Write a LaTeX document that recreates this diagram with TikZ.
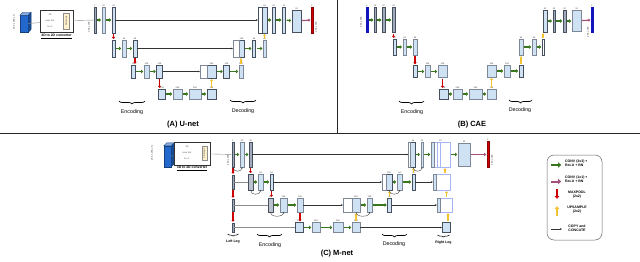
\documentclass[tikz,border=0pt]{standalone}
\usepackage{fontspec}
\setmainfont{Liberation Sans}
\usepackage{xcolor}
\usepackage{tikz}
\usetikzlibrary{arrows.meta, positioning, calc, decorations.pathreplacing}
\definecolor{layerblue}{RGB}{207, 226, 243}
\definecolor{layerline}{RGB}{125, 135, 150}
\definecolor{layerdark}{RGB}{70, 80, 95}
\definecolor{bargray}{RGB}{160, 170, 185}
\definecolor{convgreen}{RGB}{56, 118, 29}
\definecolor{poolred}{RGB}{204, 0, 0}
\definecolor{upyellow}{RGB}{241, 194, 50}
\definecolor{convpink}{RGB}{166, 77, 121}
\definecolor{cubeblue}{RGB}{35, 105, 205}
\definecolor{convyellow}{RGB}{255, 242, 204}
\definecolor{outblue}{RGB}{20, 20, 190}

\begin{document}
\begin{tikzpicture}[
    x=1pt, y=-1pt,
    lay/.style 2 args={rectangle, draw=layerline, fill=layerblue, line width=0.4pt, inner sep=0pt, outer sep=0pt, minimum width=#1pt, minimum height=#2pt},
    bar/.style 2 args={lay={#1}{#2}, fill=bargray, draw=layerdark},
    dk/.style={draw=layerdark, line width=0.6pt},
    wh/.style={fill=white},
    cube/.style 2 args={rectangle, draw=cubeblue!60!black, fill=cubeblue, line width=0.3pt, inner sep=0pt, minimum width=#1pt, minimum height=#2pt},
    cubetop/.style={draw=cubeblue!60!black, fill=cubeblue!55, line width=0.3pt},
    cubeside/.style={draw=cubeblue!60!black, fill=cubeblue!70!black, line width=0.3pt},
    cvbox/.style 2 args={rectangle, draw=black!80, fill=white, line width=0.6pt, inner sep=0pt, minimum width=#1pt, minimum height=#2pt},
    ybox/.style 2 args={rectangle, draw=black!45, fill=convyellow, line width=0.3pt, inner sep=0pt, minimum width=#1pt, minimum height=#2pt},
    cvlbl/.style={font=\fontsize{3.4}{4}\selectfont\bfseries, inner sep=0.5pt},
    num/.style={font=\fontsize{2.2}{2.5}\selectfont, inner sep=0.4pt, text=black!75},
    vtxt/.style={font=\fontsize{2.4}{2.8}\selectfont, rotate=90, inner sep=0.5pt, text=black!75},
    conv/.style={draw=convgreen, line width=1.2pt, -{Triangle[length=2pt, width=3.4pt]}, shorten <=0.8pt, shorten >=0.8pt},
    conv1/.style={draw=convpink, line width=1.2pt, -{Triangle[length=2pt, width=3.2pt]}, shorten <=0.8pt, shorten >=0.8pt},
    pool/.style={draw=poolred, line width=1.2pt, -{Triangle[length=1.8pt, width=3pt]}, shorten <=1.2pt, shorten >=1.2pt},
    upsm/.style={draw=upyellow, line width=1.2pt, -{Triangle[length=1.8pt, width=3pt]}, shorten <=1.2pt, shorten >=1.2pt},
    cpy/.style={draw=black!80, line width=0.45pt, -{Stealth[length=2pt, width=1.6pt]}},
    link/.style={draw=black!45, line width=0.4pt},
    skip/.style={draw=black!80, line width=0.35pt, -{Stealth[length=1.5pt, width=1.2pt]}},
    brc/.style={decorate, decoration={brace, amplitude=3pt}, line width=0.7pt},
    part/.style={font=\fontsize{5.3}{6}\selectfont, inner sep=0.5pt},
    leg/.style={font=\fontsize{3.5}{4}\selectfont\bfseries, inner sep=0.5pt},
    ttl/.style={font=\fontsize{7.5}{8}\selectfont\bfseries, inner sep=0.5pt},
    panel/.style={draw=black!85, line width=0.8pt},
    keybox/.style={rectangle, draw=black!60, line width=0.5pt, rounded corners=7pt, minimum width=55pt, minimum height=85pt}
]
\useasboundingbox (0,0) rectangle (640,262);

% panel borders
\draw[panel] (0,133) -- (640,133);
\draw[panel] (337,0) -- (337,133);

% ---------------- (A) U-net ----------------
\node[cube={8}{17}] (inA) at (24,24) {};
\draw[cubetop] (inA.north west) -- ++(3,-3) -- ++(8,0) -- (inA.north east) -- cycle;
\draw[cubeside] (inA.north east) -- ++(3,-3) -- ++(0,17) -- (inA.south east) -- cycle;
\node[vtxt] at (14,22) {256 x 256 x N};
\node[cvbox={33}{22}] (cvA) at (56.5,21) {};
\node[ybox={6}{16}] (yA) at (66.5,21) {};
\node[vtxt] at (yA) {2D maps};
\node[num] at (50,15) {3D};
\node[num] at (50,21) {conv 1x1};
\node[num] at (50,27) {N x 1};
\node[cvlbl] at (56.5,36.5) {\underline{3D to 2D converter}};
\node[vtxt] at (89,27) {256 x 256};

\node[bar={2}{26}, label={[num]above:1}] (a1) at (95,20) {};
\node[lay={3.5}{26}, label={[num]above:32}] (a2) at (103.5,20) {};
\node[lay={3}{26}, dk, label={[num]above:32}] (a3) at (113.5,20) {};
\node[lay={5}{26}, dk, label={[num]above:64}] (a4) at (264.5,20) {};
\node[lay={4}{26}, dk, wh, left=0pt of a4] (a4w) {};
\node[lay={3}{26}, dk, label={[num]above:32}] (a5) at (273.5,20) {};
\node[lay={3.5}{26}, dk, label={[num]above:32}] (a6) at (284,20) {};
\node[lay={9}{22}, dk, label={[num]above:32}] (a7) at (296.5,21) {};
\node[lay={1.5}{26}, fill=poolred, draw=poolred!70!black, label={[num]above:1}] (a8) at (312,20) {};
\node[vtxt] at (316,27) {256 x 256};

\node[lay={3}{17}, dk, label={[num]above:32}] (b1) at (113.5,48.5) {};
\node[lay={4}{17}, label={[num]above:64}] (b2) at (124,48.5) {};
\node[lay={4}{17}, dk, label={[num]above:64}] (b3) at (135,48.5) {};
\node[lay={5}{17}, dk, label={[num]above:128}] (b4) at (241.5,48.5) {};
\node[lay={6}{17}, wh, left=0pt of b4] (b4w) {};
\node[lay={3.5}{17}, dk, label={[num]above:64}] (b5) at (254,48.5) {};
\node[lay={2.5}{17}, label={[num]above:64}] (b6) at (264.5,48.5) {};

\node[lay={4}{13}, dk, label={[num]above:64}] (c1) at (133.5,71.5) {};
\node[lay={5}{13}, label={[num]above:128}] (c2) at (146.5,71.5) {};
\node[lay={6}{13}, dk, label={[num]above:128}] (c3) at (159.5,71.5) {};
\node[lay={9}{13}, dk, label={[num]above:256}] (c4) at (211.5,71.5) {};
\node[lay={7}{13}, wh, left=0pt of c4] (c4w) {};
\node[lay={6}{13}, dk, label={[num]above:128}] (c5) at (226.5,71.5) {};
\node[lay={4}{13}, label={[num]above:128}] (c6) at (241,71.5) {};

\node[lay={7}{10}, dk, label={[num]above:128}] (d1) at (162,94) {};
\node[lay={9}{10}, label={[num]above:256}] (d2) at (177.5,94) {};
\node[lay={12}{10}, label={[num]above:256}] (d3) at (195,94) {};
\node[lay={9}{10}, dk, label={[num]above:128}] (d4) at (211.5,94) {};

\draw[link] (inA) -- (cvA);
\draw[link] (cvA) -- (a1);
\draw[conv] (a1) -- (a2);
\draw[conv] (a2) -- (a3);
\draw[conv] (a4) -- (a5);
\draw[conv] (a5) -- (a6);
\draw[conv] (a6) -- (a7);
\draw[conv1] (a7) -- (a8);
\draw[conv] (b1) -- (b2);
\draw[conv] (b2) -- (b3);
\draw[conv] (b4) -- (b5);
\draw[conv] (b5) -- (b6);
\draw[conv] (c1) -- (c2);
\draw[conv] (c2) -- (c3);
\draw[conv] (c4) -- (c5);
\draw[conv] (c5) -- (c6);
\draw[conv] (d1) -- (d2);
\draw[conv] (d2) -- (d3);
\draw[conv] (d3) -- (d4);
\draw[pool] (a3.south) -- (a3.south |- b1.north);
\draw[pool] (b3.south) -- (b3.south |- c1.north);
\draw[pool] (c3.south) -- (c3.south |- d1.north);
\draw[upsm] (d4.north) -- (d4.north |- c4.south);
\draw[upsm] (c6.north) -- (c6.north |- b4.south);
\draw[upsm] (b6.north) -- (b6.north |- a4.south);
\draw[cpy] (a3) -- (a4w);
\draw[cpy] (b3) -- (b4w);
\draw[cpy] (c3) -- (c4w);

\draw[brc] (145,101) -- (119,101);
\node[part] (encA) at (132,112) {Encoding};
\draw[brc] (256,100) -- (230,100);
\node[part] (decA) at (243,111) {Decoding};
\node[ttl] (tA) at (183,124.5) {(A) U-net};

% ---------------- (B) CAE ----------------
\node[vtxt] at (361,22) {256 x 256};
\node[lay={1.5}{25}, fill=outblue, draw=outblue, label={[num]above:1}] (e1) at (367,20) {};
\node[bar={1.5}{25}, label={[num]above:32}] (e2) at (375,20) {};
\node[bar={2.5}{25}, label={[num]above:32}] (e3) at (383.5,20) {};
\node[bar={3}{25}, label={[num]above:32}] (e4) at (393.5,20) {};

\node[lay={3}{16}, dk, label={[num]above:32}] (f1) at (394.5,47) {};
\node[lay={3.5}{16}, label={[num]above:64}] (f2) at (404.5,47) {};
\node[lay={4}{16}, label={[num]above:64}] (f3) at (415,47) {};

\node[lay={4}{12}, dk, label={[num]above:64}] (g1) at (415,71.5) {};
\node[lay={5}{12}, label={[num]above:128}] (g2) at (427.5,71.5) {};
\node[lay={9}{12}, label={[num]above:128}] (g3) at (442.5,71.5) {};

\node[lay={9}{10}, dk, label={[num]above:128}] (h1) at (443.5,94) {};
\node[lay={9}{10}, label={[num]above:256}] (h2) at (457.5,94) {};
\node[lay={13}{10}, label={[num]above:256}] (h3) at (475.5,94) {};
\node[lay={9}{10}, label={[num]above:128}] (h4) at (491.5,94) {};

\node[lay={9}{12}, label={[num]above:128}] (i1) at (491.5,71) {};
\node[lay={6}{12}, label={[num]above:128}] (i2) at (507,71) {};
\node[lay={4}{12}, dk, label={[num]above:64}] (i3) at (521,71) {};

\node[lay={4}{16}, label={[num]above:64}] (j1) at (521,47) {};
\node[lay={4}{16}, label={[num]above:64}] (j2) at (534,47) {};
\node[lay={2}{16}, dk, wh, label={[num]above:32}] (j3) at (543,47) {};

\node[lay={4}{22}, dk, label={[num]above:32}] (k1) at (545,21) {};
\node[bar={2.5}{22}, label={[num]above:32}] (k2) at (554,21) {};
\node[bar={3}{22}, label={[num]above:32}] (k3) at (564.5,21) {};
\node[lay={9}{21}, label={[num]above:32}] (k4) at (576.5,21) {};
\node[lay={1.5}{25}, fill=outblue, draw=outblue, label={[num]above:1}] (k5) at (592,20) {};
\node[vtxt] at (588,32) {256 x 256};

\draw[conv] (e1) -- (e2);
\draw[conv] (e2) -- (e3);
\draw[conv] (e3) -- (e4);
\draw[conv] (f1) -- (f2);
\draw[conv] (f2) -- (f3);
\draw[conv] (g1) -- (g2);
\draw[conv] (g2) -- (g3);
\draw[conv] (h1) -- (h2);
\draw[conv] (h2) -- (h3);
\draw[conv] (h3) -- (h4);
\draw[conv] (i1) -- (i2);
\draw[conv] (i2) -- (i3);
\draw[conv] (j1) -- (j2);
\draw[conv] (j2) -- (j3);
\draw[conv] (k1) -- (k2);
\draw[conv] (k2) -- (k3);
\draw[conv] (k3) -- (k4);
\draw[conv1] (k4) -- (k5);
\draw[pool] (e4.south) -- (e4.south |- f1.north);
\draw[pool] (f3.south) -- (f3.south |- g1.north);
\draw[pool] (g3.south) -- (g3.south |- h1.north);
\draw[upsm] (h4.north) -- (h4.north |- i1.south);
\draw[upsm] (i3.north) -- (i3.north |- j1.south);
\draw[upsm] (j3.north) -- (j3.north |- k1.south);

\draw[brc] (424,101) -- (399,101);
\node[part] (encB) at (412,112) {Encoding};
\draw[brc] (532,100) -- (509,100);
\node[part] (decB) at (520,110.5) {Decoding};
\node[ttl] (tB) at (472,125) {(B) CAE};

% ---------------- (C) M-net ----------------
\node[cube={7}{21}] (inC) at (167.5,156.5) {};
\draw[cubetop] (inC.north west) -- ++(3,-3) -- ++(7,0) -- (inC.north east) -- cycle;
\draw[cubeside] (inC.north east) -- ++(3,-3) -- ++(0,21) -- (inC.south east) -- cycle;
\node[vtxt] at (152,153) {256 x 256 x N};
\node[cvbox={36}{23}] (cvC) at (192,153.5) {};
\node[ybox={5}{14}] (yC) at (204.5,153.5) {};
\node[vtxt] at (yC) {2D maps};
\node[num] at (187,147) {3D};
\node[num] at (187,153) {conv 1x1};
\node[num] at (187,159) {N x 1};
\node[cvlbl] at (192,168.5) {\underline{3D to 2D converter}};
\node[vtxt] at (228,160) {256 x 256};

% left leg
\node[bar={2}{25}, label={[num]above:1}] (m1) at (233,154.5) {};
\node[bar={2}{14}] (p1) at (233,182) {};
\node[bar={2}{12}] (r1) at (233,205) {};
\node[bar={2}{9}] (t1) at (233,227.5) {};

% encoder
\node[lay={4}{25}, label={[num]above:32}] (m2) at (242,154.5) {};
\node[bar={2.5}{25}, label={[num]above:32}] (m3) at (250.5,154.5) {};
\node[lay={5}{16}, dk, fill=bargray!70, label={[num]above:32}] (p2) at (250.5,182) {};
\node[lay={5}{16}, label={[num]above:64}] (p3) at (260.5,182) {};
\node[lay={3}{16}, dk, label={[num]above:64}] (p4) at (271.5,182) {};
\node[lay={5}{14}, dk, fill=bargray!70, label={[num]above:64}] (r2) at (270.5,205) {};
\node[lay={7}{14}, label={[num]above:128}] (r3) at (283.5,205) {};
\node[lay={6}{14}, label={[num]above:128}] (r4) at (300,205) {};
\node[lay={8}{10}, dk, label={[num]above:128}] (s1) at (299,227.5) {};
\node[lay={8}{10}, label={[num]above:256}] (s2) at (316,227.5) {};

% decoder
\node[lay={10}{10}, label={[num]above:256}] (s3) at (338,227.5) {};
\node[lay={8}{10}, label={[num]above:128}] (s4) at (356,227.5) {};
\node[lay={8}{14}, label={[num]above:256}] (u1) at (356,205) {};
\node[lay={9}{14}, wh, left=0pt of u1] (u1w) {};
\node[lay={5}{14}, label={[num]above:128}] (u2) at (369.5,205) {};
\node[lay={4}{14}, dk, label={[num]above:64}] (u3) at (389.5,205) {};
\node[lay={6}{16}, dk, label={[num]above:128}] (q1) at (389,182) {};
\node[lay={4}{16}, wh, left=0pt of q1] (q1w) {};
\node[lay={5}{16}, label={[num]above:64}] (q2) at (399.5,182) {};
\node[lay={3}{16}, dk, label={[num]above:32}] (q3) at (413.5,182) {};
\node[lay={5}{25}, dk, label={[num]above:64}] (n1) at (413,154.5) {};
\node[lay={2}{25}, wh, left=0pt of n1] (n1w) {};
\node[lay={2.5}{25}, label={[num]above:32}] (n2) at (422,154.5) {};
\node[lay={12}{23}, label={[num]above:32}] (n4) at (464,154.5) {};
\node[lay={2}{26}, fill=poolred, draw=poolred!70!black, label={[num]above:1}] (n5) at (488,154.5) {};
\node[vtxt] at (492,160) {256 x 256};

% right leg
\node[lay={19}{25}, draw=layerblue!80!blue, wh, label={[num]above:97}] (n3) at (440.5,154.5) {};
\node[lay={3}{25}, anchor=west] (n3b) at (n3.west) {};
\draw[draw=layerblue!80!blue, line width=0.4pt] (437,142) -- (437,167);
\draw[draw=layerblue!80!blue, line width=0.4pt] (440,142) -- (440,167);
\node[lay={17}{16}, draw=layerblue!80!blue, wh] (q4) at (441.5,182) {};
\node[lay={3}{16}, anchor=west] (q4b) at (q4.west) {};
\node[lay={15}{14}, draw=layerblue!80!blue, wh] (u4) at (444.5,205) {};
\node[lay={3}{14}, anchor=west] (u4b) at (u4.west) {};
\node[lay={8}{10}, dk] (s5) at (446,227.5) {};

\draw[link] (inC) -- (cvC);
\draw[link] (cvC) -- (m1);
\draw[link] (p1) -- (p2);
\draw[link] (r1) -- (r2);
\draw[link] (t1) -- (s1);
\draw[pool] (m1) -- (p1);
\draw[pool] (p1) -- (r1);
\draw[pool] (r1) -- (t1);
\draw[conv] (m1) -- (m2);
\draw[conv] (m2) -- (m3);
\draw[conv] (p2) -- (p3);
\draw[conv] (p3) -- (p4);
\draw[conv] (r2) -- (r3);
\draw[conv] (r3) -- (r4);
\draw[conv] (s1) -- (s2);
\draw[conv] (s2) -- (s3);
\draw[conv] (s3) -- (s4);
\draw[conv] (u1) -- (u2);
\draw[conv] (u2) -- (u3);
\draw[conv] (q1) -- (q2);
\draw[conv] (q2) -- (q3);
\draw[conv] (n1) -- (n2);
\draw[conv] (n2) -- (n3b);
\draw[conv] (n3) -- (n4);
\draw[conv1] (n4) -- (n5);
\draw[pool] (m3.south) -- (m3.south |- p2.north);
\draw[pool] (p4.south) -- (p4.south |- r2.north);
\draw[pool] (r4.south) -- (r4.south |- s1.north);
\draw[upsm] (s4.north) -- (s4.north |- u1.south);
\draw[upsm] (u3.north) -- (u3.north |- q1.south);
\draw[upsm] (q3.north) -- (q3.north |- n1.south);
\draw[upsm] ([xshift=2pt]s5.north) -- ([xshift=2pt]s5.north |- u4.south);
\draw[upsm] ([xshift=2pt]u4.north) -- ([xshift=2pt]u4.north |- q4.south);
\draw[upsm] ([xshift=3.5pt]q4.north) -- ([xshift=3.5pt]q4.north |- n3.south);
\draw[cpy] (m3) -- (n1w);
\draw[cpy] (p4) -- (q1w);
\draw[cpy] (r4) -- (u1w);
\draw[cpy] (q3) -- (q4);
\draw[cpy] (u3) -- (u4);
\draw[cpy] (s4) -- (s5);
\draw[skip] (m1.south) .. controls +(0,6) and +(0,5) .. (m2.south);
\draw[skip] (p2.south) .. controls +(0,6) and +(0,5) .. (p3.south);
\draw[skip] (r2.south) .. controls +(0,6) and +(0,5) .. (r3.south);
\draw[skip] (u1.south) .. controls +(0,6) and +(0,5) .. (u2.south);
\draw[skip] (q1.south) .. controls +(0,6) and +(0,5) .. (q2.south);
\draw[skip] (n1.south) .. controls +(0,6) and +(0,5) .. (n2.south);

\draw[brc, line width=0.5pt, decoration={amplitude=2pt}] (238.5,234) -- (227.5,234);
\node[leg] (llC) at (233,241.5) {Left Leg};
\draw[brc] (282,234) -- (257,234);
\node[part] (encC) at (270,245.5) {Encoding};
\draw[brc] (407,234) -- (382,234);
\node[part] (decC) at (394,244.5) {Decoding};
\draw[brc, line width=0.5pt, decoration={amplitude=2pt}] (449.5,235) -- (437.5,235);
\node[leg] (rlC) at (443.5,243) {Right Leg};
\node[ttl] (tC) at (337,253.5) {(C) M-net};

% legend
\node[keybox] (key) at (574.5,197.5) {};
\coordinate (k1a) at (550,165);
\coordinate (k1b) at (562,165);
\coordinate (k2a) at (550,181.5);
\coordinate (k2b) at (562,181.5);
\coordinate (k3a) at (557,188);
\coordinate (k3b) at (557,200);
\coordinate (k4a) at (557,217);
\coordinate (k4b) at (557,205);
\coordinate (k5a) at (551,229);
\coordinate (k5b) at (562,229);
\draw[conv, line width=2pt, -{Triangle[length=3pt, width=5pt]}] (k1a) -- (k1b);
\draw[conv1, line width=2pt, -{Triangle[length=3pt, width=5pt]}] (k2a) -- (k2b);
\draw[pool, line width=1.8pt, -{Triangle[length=2.6pt, width=4.4pt]}] (k3a) -- (k3b);
\draw[upsm, line width=1.8pt, -{Triangle[length=2.6pt, width=4.4pt]}] (k4a) -- (k4b);
\draw[cpy, line width=0.5pt] (k5a) -- (k5b);
\node[leg, anchor=west, align=left] (l1) at (564.5,163) {CONV (3x3) +\\ReLU + BN};
\node[leg, anchor=west, align=left] (l2) at (564.5,179.5) {CONV (1x1) +\\ReLU + BN};
\node[leg, align=center] (l3) at (577,194.5) {MAXPOOL\\(2x2)};
\node[leg, align=center] (l4) at (577,210) {UPSAMPLE\\(2x2)};
\node[leg, align=center] (l5) at (577,228) {COPY and\\CONCATE};

\end{tikzpicture}
\end{document}
